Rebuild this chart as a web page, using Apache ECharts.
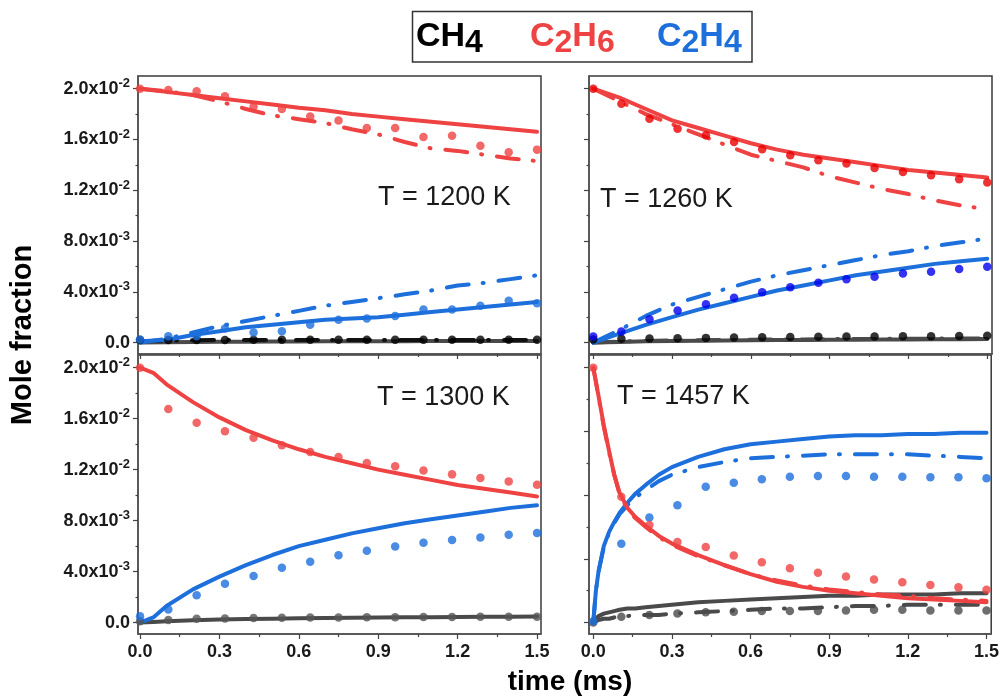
<!DOCTYPE html>
<html>
<head>
<meta charset="utf-8">
<script src="https://cdn.jsdelivr.net/npm/echarts@6/dist/echarts.min.js"></script>
<style>
  html, body { margin: 0; padding: 0; background: #ffffff; }
  #chart { width: 1002px; height: 698px; }
</style>
</head>
<body>
<div id="chart"></div>
<script>
// ---- sample times (ms) ----
const expTime = [0, 0.107, 0.214, 0.321, 0.429, 0.536, 0.643, 0.750, 0.857, 0.964, 1.071, 1.179, 1.286, 1.393, 1.5];
const modelTime = [0, 0.1, 0.2, 0.3, 0.4, 0.5, 0.6, 0.7, 0.8, 0.9, 1.0, 1.1, 1.2, 1.3, 1.4, 1.5];
const modelTime1300 = [0, 0.05, 0.1, 0.2, 0.3, 0.4, 0.5, 0.6, 0.7, 0.8, 0.9, 1.0, 1.1, 1.2, 1.3, 1.4, 1.5];
const modelTime1457 = [0, 0.01, 0.02, 0.04, 0.06, 0.08, 0.1, 0.13, 0.16, 0.2, 0.25, 0.3, 0.4, 0.5, 0.6, 0.7, 0.8, 0.9, 1.0, 1.1, 1.2, 1.3, 1.4, 1.5];

// ---- T = 1200 K ----
const ch4Exp1200    = [0.0002, 0.0002, 0.0002, 0.0002, 0.00022, 0.00022, 0.00022, 0.00023, 0.00022, 0.00022, 0.00022, 0.00022, 0.00023, 0.00023, 0.00023];
const c2h6Exp1200   = [0.0200, 0.0199, 0.0198, 0.0194, 0.0186, 0.0184, 0.0178, 0.0175, 0.0169, 0.0169, 0.0162, 0.0163, 0.0155, 0.0150, 0.0152];
const c2h4Exp1200   = [0.00024, 0.0005, 0.0005, 0.0011, 0.0008, 0.0009, 0.0014, 0.0018, 0.0019, 0.0021, 0.0026, 0.0026, 0.0029, 0.0033, 0.0031];
const ch4Solid1200  = [0, 0.00003, 0.00005, 0.00006, 0.00007, 0.00008, 0.00009, 0.0001, 0.0001, 0.00011, 0.00011, 0.00012, 0.00012, 0.00012, 0.00013, 0.00013];
const ch4Dash1200   = [0.0001, 0.00015, 0.00018, 0.0002, 0.0002, 0.0002, 0.0002, 0.0002, 0.0002, 0.0002, 0.0002, 0.0002, 0.0002, 0.0002, 0.0002, 0.0002];
const c2h6Solid1200 = [0.0200, 0.01975, 0.0195, 0.01925, 0.0190, 0.01875, 0.0185, 0.0183, 0.0180, 0.0178, 0.0176, 0.0174, 0.0172, 0.0170, 0.0168, 0.0166];
const c2h6Dash1200  = [0.0200, 0.0198, 0.0195, 0.0190, 0.0184, 0.0179, 0.0176, 0.0173, 0.0168, 0.0164, 0.0158, 0.0153, 0.0151, 0.0148, 0.0145, 0.0143];
const c2h4Solid1200 = [0.0001, 0.0002, 0.0006, 0.0009, 0.0012, 0.0014, 0.0016, 0.0018, 0.0019, 0.0020, 0.0022, 0.0024, 0.0026, 0.0028, 0.0030, 0.0032];
const c2h4Dash1200  = [0, 0.0003, 0.0008, 0.0013, 0.0017, 0.0021, 0.0025, 0.0029, 0.0032, 0.0035, 0.0038, 0.0041, 0.0045, 0.0047, 0.0050, 0.0053];

// ---- T = 1260 K ----
const ch4Exp1260    = [0.00025, 0.0003, 0.00033, 0.00035, 0.00037, 0.0004, 0.00042, 0.00044, 0.00045, 0.00047, 0.00048, 0.0005, 0.0005, 0.00052, 0.00053];
const c2h6Exp1260   = [0.0200, 0.01882, 0.01764, 0.01685, 0.01633, 0.0158, 0.01523, 0.01476, 0.01436, 0.0141, 0.01376, 0.01344, 0.01318, 0.01287, 0.01261];
const c2h4Exp1260   = [0.00047, 0.00087, 0.00184, 0.00252, 0.00302, 0.00354, 0.00396, 0.00435, 0.00472, 0.00498, 0.00519, 0.00545, 0.00558, 0.00579, 0.00597];
const ch4Solid1260  = [0, 0.00005, 0.0001, 0.00012, 0.00014, 0.00016, 0.00018, 0.0002, 0.00021, 0.00022, 0.00023, 0.00024, 0.00025, 0.00026, 0.00027, 0.00028];
const ch4Dash1260   = [0, 0.00008, 0.00013, 0.00016, 0.00018, 0.0002, 0.00022, 0.00024, 0.00025, 0.00027, 0.00028, 0.00029, 0.0003, 0.00031, 0.00032, 0.00033];
const c2h6Solid1260 = [0.0200, 0.0193, 0.0184, 0.0175, 0.0169, 0.0163, 0.0157, 0.0152, 0.0148, 0.0145, 0.0142, 0.0139, 0.0136, 0.0134, 0.0132, 0.0130];
const c2h6Dash1260  = [0.0200, 0.0190, 0.0180, 0.0172, 0.0164, 0.0156, 0.0148, 0.0143, 0.0138, 0.0131, 0.0126, 0.0121, 0.0117, 0.0112, 0.0108, 0.0105];
const c2h4Solid1260 = [0, 0.0007, 0.0014, 0.0020, 0.0026, 0.0031, 0.0036, 0.0041, 0.0045, 0.0049, 0.0053, 0.0056, 0.0059, 0.0062, 0.0064, 0.0066];
const c2h4Dash1260  = [0, 0.0010, 0.0021, 0.0030, 0.0036, 0.0042, 0.0048, 0.0053, 0.0057, 0.0061, 0.0065, 0.0069, 0.0072, 0.0076, 0.0079, 0.0082];

// ---- T = 1300 K ----
const ch4Exp1300    = [0.0001, 0.0002, 0.0003, 0.00032, 0.00035, 0.00037, 0.00039, 0.0004, 0.00041, 0.00042, 0.00043, 0.00044, 0.00045, 0.00045, 0.00046];
const c2h6Exp1300   = [0.0200, 0.01676, 0.01568, 0.01502, 0.0145, 0.01392, 0.01339, 0.01299, 0.01252, 0.01226, 0.01194, 0.01163, 0.01134, 0.01108, 0.01081];
const c2h4Exp1300   = [0.0005, 0.00103, 0.00215, 0.00305, 0.00365, 0.0043, 0.00478, 0.00529, 0.00563, 0.00597, 0.00626, 0.00647, 0.00668, 0.00689, 0.00702];
const ch4Solid1300  = [0, 0.00005, 0.0001, 0.00018, 0.00023, 0.00027, 0.0003, 0.00033, 0.00035, 0.00037, 0.00039, 0.00041, 0.00042, 0.00044, 0.00045, 0.00046, 0.00047];
const c2h6Solid1300 = [0.0200, 0.0196, 0.0187, 0.0173, 0.0161, 0.0151, 0.0143, 0.0136, 0.0130, 0.0125, 0.0120, 0.0116, 0.0112, 0.0108, 0.0105, 0.0102, 0.0099];
const c2h4Solid1300 = [0, 0.0004, 0.0013, 0.0026, 0.0036, 0.0045, 0.0053, 0.0060, 0.0065, 0.0070, 0.0074, 0.0078, 0.0081, 0.0084, 0.0087, 0.0090, 0.0092];

// ---- T = 1457 K ----
const ch4Exp1457    = [0, 0.00045, 0.0006, 0.0007, 0.0008, 0.00085, 0.0009, 0.0009, 0.0009, 0.00095, 0.001, 0.001, 0.00095, 0.00095, 0.00095];
const c2h6Exp1457   = [0.0200, 0.00987, 0.00766, 0.00632, 0.00592, 0.00526, 0.00474, 0.00426, 0.0039, 0.00361, 0.00337, 0.00316, 0.00295, 0.00276, 0.00258];
const c2h4Exp1457   = [0.0001, 0.00619, 0.00824, 0.00921, 0.01066, 0.01097, 0.01124, 0.01145, 0.0115, 0.0115, 0.01145, 0.01145, 0.0114, 0.0114, 0.01132];
const ch4Solid1457  = [0, 0.0003, 0.0005, 0.0007, 0.0008, 0.0009, 0.0010, 0.0011, 0.0011, 0.0012, 0.0013, 0.0014, 0.0016, 0.0017, 0.0018, 0.0019, 0.0020, 0.0021, 0.0021, 0.0022, 0.0022, 0.0022, 0.0023, 0.0023];
const ch4Dash1457   = [0, 0.0001, 0.0002, 0.0003, 0.0003, 0.0004, 0.0005, 0.0005, 0.0006, 0.0006, 0.0006, 0.0007, 0.0008, 0.0009, 0.0010, 0.0011, 0.0011, 0.0012, 0.0013, 0.0013, 0.0014, 0.0014, 0.0014, 0.0014];
const c2h6Solid1457 = [0.0200, 0.0189, 0.0178, 0.0155, 0.0135, 0.0116, 0.0102, 0.0090, 0.0083, 0.0076, 0.0068, 0.0062, 0.0053, 0.0045, 0.0038, 0.0032, 0.0028, 0.0025, 0.0023, 0.0021, 0.0019, 0.0018, 0.0017, 0.0016];
const c2h6Dash1457  = [0.0200, 0.0189, 0.0177, 0.0154, 0.0134, 0.0116, 0.0101, 0.0089, 0.0082, 0.0075, 0.0067, 0.0061, 0.0052, 0.0045, 0.0038, 0.0033, 0.0029, 0.0026, 0.0024, 0.0022, 0.0021, 0.0019, 0.0018, 0.0017];
const c2h4Solid1457 = [0, 0.0025, 0.0040, 0.0060, 0.0071, 0.0079, 0.0086, 0.0094, 0.0101, 0.0108, 0.0116, 0.0122, 0.0130, 0.0136, 0.0140, 0.0142, 0.0144, 0.0146, 0.0147, 0.0147, 0.0148, 0.0148, 0.0149, 0.0149];
const c2h4Dash1457  = [0, 0.0025, 0.0040, 0.0059, 0.0070, 0.0078, 0.0085, 0.0092, 0.0098, 0.0104, 0.0111, 0.0116, 0.0122, 0.0126, 0.0129, 0.0130, 0.0131, 0.0132, 0.0132, 0.0132, 0.0132, 0.0131, 0.0130, 0.0129];

// ---- axis ticks ----
const xLabelValues = [0, 0.3, 0.6, 0.9, 1.2, 1.5];
const xMinorValues = [0.15, 0.45, 0.75, 1.05, 1.35];
const yLabelValues = [0, 0.004, 0.008, 0.012, 0.016, 0.02];
const yMinorValues = [0.002, 0.006, 0.01, 0.014, 0.018];
const yMajor1457   = [0, 0.005, 0.01, 0.015, 0.02];
const yMinor1457   = [0.0025, 0.0075, 0.0125, 0.0175];

const temperatureLabels = ['T = 1200 K', 'T = 1260 K', 'T = 1300 K', 'T = 1457 K'];
const speciesNames = ['CH4', 'C2H6', 'C2H4'];

const RED = '#EF4242';
const BLUE = '#1D6FDC';
const GRAY = '#4A4A4A';
const FONT = '"Liberation Sans", Arial, sans-serif';

const Y_MIN = -0.0009, Y_MAX = 0.021;

const grids = [
  { left: 138, top: 76,  width: 403, height: 278 },
  { left: 589, top: 76,  width: 403, height: 278 },
  { left: 138, top: 355, width: 403, height: 279 },
  { left: 589, top: 355, width: 403, height: 279 }
].map(g => Object.assign(g, { show: true, borderColor: '#3a3a3a', borderWidth: 1.5, backgroundColor: 'transparent', containLabel: false }));

const xRange = [[-0.0076, 1.515], [-0.0163, 1.518], [-0.0076, 1.515], [-0.0163, 1.518]];

function sciLabel(v) {
  if (Math.abs(v) < 1e-12) return '{m|0.0}';
  const e = Math.floor(Math.log10(v) + 1e-9);
  const m = v / Math.pow(10, e);
  return '{m|' + m.toFixed(1) + 'x10}{e|' + e + '}';
}

const xAxes = [], yAxes = [];
grids.forEach((g, i) => {
  const bottomRow = i >= 2;
  const leftCol = i % 2 === 0;
  const base = { gridIndex: i, type: 'value', min: xRange[i][0], max: xRange[i][1], position: 'bottom', splitLine: { show: false } };
  xAxes.push(Object.assign({}, base, {
    axisLine: { show: true, onZero: false, lineStyle: { color: '#555', width: 1.5 } },
    axisTick: { show: true, customValues: xLabelValues, length: 5, lineStyle: { color: '#444', width: 1.2 } },
    axisLabel: {
      show: bottomRow, customValues: xLabelValues, margin: 9,
      formatter: v => v.toFixed(1),
      fontFamily: FONT, fontWeight: 'bold', fontSize: 18, color: '#1a1a1a'
    }
  }));
  xAxes.push(Object.assign({}, base, {
    axisLine: { show: false, onZero: false },
    axisTick: { show: true, customValues: xMinorValues, length: 3, lineStyle: { color: '#444', width: 1.2 } },
    axisLabel: { show: false }
  }));
  const major = i === 3 ? yMajor1457 : yLabelValues;
  const minor = i === 3 ? yMinor1457 : yMinorValues;
  const ybase = { gridIndex: i, type: 'value', min: Y_MIN, max: Y_MAX, position: 'left', splitLine: { show: false } };
  yAxes.push(Object.assign({}, ybase, {
    axisLine: { show: true, onZero: false, lineStyle: { color: '#555', width: 1.5 } },
    axisTick: { show: true, customValues: major, length: 5, lineStyle: { color: '#444', width: 1.2 } },
    axisLabel: {
      show: leftCol, customValues: yLabelValues, margin: 8,
      formatter: sciLabel,
      rich: {
        m: { fontFamily: FONT, fontWeight: 'bold', fontSize: 18, color: '#1a1a1a' },
        e: { fontFamily: FONT, fontWeight: 'bold', fontSize: 13, color: '#1a1a1a', padding: [0, 0, 10, 0] }
      }
    }
  }));
  yAxes.push(Object.assign({}, ybase, {
    axisLine: { show: false, onZero: false },
    axisTick: { show: true, customValues: minor, length: 2.5, lineStyle: { color: '#444', width: 1.2 } },
    axisLabel: { show: false }
  }));
});

function pairs(times, vals) { return times.map((t, k) => [t, vals[k]]); }

function line(panel, name, times, vals, color, dashed) {
  return {
    type: 'line', name: name, xAxisIndex: panel * 2, yAxisIndex: panel * 2,
    data: pairs(times, vals), showSymbol: false, symbol: 'none',
    smooth: false, silent: true,
    lineStyle: dashed
      ? { color: color, width: 4, type: [22, 14, 1, 15], cap: 'round', join: 'round' }
      : { color: color, width: 4, cap: 'round', join: 'round' },
    z: 2
  };
}
function dots(panel, name, vals, color) {
  return {
    type: 'scatter', name: name, xAxisIndex: panel * 2, yAxisIndex: panel * 2,
    data: pairs(expTime, vals), symbol: 'circle', symbolSize: 8.5, silent: true,
    itemStyle: { color: color }, z: 3
  };
}

const series = [
  // 1200 K
  line(0, speciesNames[0], modelTime, ch4Solid1200, GRAY, false),
  line(0, speciesNames[0], modelTime, ch4Dash1200, '#111', true),
  line(0, speciesNames[2], modelTime, c2h4Solid1200, BLUE, false),
  line(0, speciesNames[2], modelTime, c2h4Dash1200, BLUE, true),
  line(0, speciesNames[1], modelTime, c2h6Solid1200, RED, false),
  line(0, speciesNames[1], modelTime, c2h6Dash1200, RED, true),
  dots(0, speciesNames[0], ch4Exp1200, '#000'),
  dots(0, speciesNames[2], c2h4Exp1200, BLUE),
  dots(0, speciesNames[1], c2h6Exp1200, RED),
  // 1260 K
  line(1, speciesNames[0], modelTime, ch4Solid1260, GRAY, false),
  line(1, speciesNames[0], modelTime, ch4Dash1260, GRAY, true),
  line(1, speciesNames[2], modelTime, c2h4Solid1260, BLUE, false),
  line(1, speciesNames[2], modelTime, c2h4Dash1260, BLUE, true),
  line(1, speciesNames[1], modelTime, c2h6Solid1260, RED, false),
  line(1, speciesNames[1], modelTime, c2h6Dash1260, RED, true),
  dots(1, speciesNames[0], ch4Exp1260, '#000'),
  dots(1, speciesNames[2], c2h4Exp1260, '#0000EE'),
  dots(1, speciesNames[1], c2h6Exp1260, '#E80000'),
  // 1300 K
  line(2, speciesNames[0], modelTime1300, ch4Solid1300, GRAY, false),
  line(2, speciesNames[2], modelTime1300, c2h4Solid1300, BLUE, false),
  line(2, speciesNames[1], modelTime1300, c2h6Solid1300, RED, false),
  dots(2, speciesNames[0], ch4Exp1300, '#555'),
  dots(2, speciesNames[2], c2h4Exp1300, BLUE),
  dots(2, speciesNames[1], c2h6Exp1300, RED),
  // 1457 K
  line(3, speciesNames[0], modelTime1457, ch4Solid1457, GRAY, false),
  line(3, speciesNames[0], modelTime1457, ch4Dash1457, GRAY, true),
  line(3, speciesNames[2], modelTime1457, c2h4Solid1457, BLUE, false),
  line(3, speciesNames[2], modelTime1457, c2h4Dash1457, BLUE, true),
  line(3, speciesNames[1], modelTime1457, c2h6Solid1457, RED, false),
  line(3, speciesNames[1], modelTime1457, c2h6Dash1457, RED, true),
  dots(3, speciesNames[0], ch4Exp1457, GRAY),
  dots(3, speciesNames[2], c2h4Exp1457, BLUE),
  dots(3, speciesNames[1], c2h6Exp1457, RED)
];

// temperature captions inside each panel
const captionPos = [[378, 198], [600, 200], [377, 398], [617, 397]];
const captions = temperatureLabels.map((txt, i) => ({
  type: 'text', x: captionPos[i][0], y: captionPos[i][1], z: 10,
  style: { text: txt, fontFamily: FONT, fontSize: 27, fill: '#1a1a1a', verticalAlign: 'middle' }
}));

// species key with lowered subscripts
function formula(parts) {
  return parts.map(p => (p[1] ? '{s|' : '{m|') + p[0] + '}').join('');
}
function keyText(x, parts, color) {
  return {
    type: 'text', x: x, y: 37, z: 11,
    style: {
      text: formula(parts), verticalAlign: 'middle',
      rich: {
        m: { fontFamily: FONT, fontWeight: 'bold', fontSize: 34, fill: color },
        s: { fontFamily: FONT, fontWeight: 'bold', fontSize: 32, fill: color, padding: [12, 0, 0, 0] }
      }
    }
  };
}

const graphics = captions.concat([
  { type: 'rect', z: 10, shape: { x: 412.5, y: 11.5, width: 339.5, height: 50.5 },
    style: { fill: '#ffffff', stroke: '#333', lineWidth: 1.5 } },
  keyText(416, [['CH', false], ['4', true]], '#000'),
  keyText(530, [['C', false], ['2', true], ['H', false], ['6', true]], RED),
  keyText(657, [['C', false], ['2', true], ['H', false], ['4', true]], BLUE),
  { type: 'text', x: 23, y: 335, rotation: Math.PI / 2, z: 10,
    style: { text: 'Mole fraction', fontFamily: FONT, fontWeight: 'bold', fontSize: 29, fill: '#000', align: 'center', verticalAlign: 'middle' } },
  { type: 'text', x: 570, y: 682, z: 10,
    style: { text: 'time (ms)', fontFamily: FONT, fontWeight: 'bold', fontSize: 28, fill: '#000', align: 'center', verticalAlign: 'middle' } }
]);

const chart = echarts.init(document.getElementById('chart'), null, { renderer: 'canvas' });
chart.setOption({
  animation: false,
  backgroundColor: '#ffffff',
  grid: grids,
  xAxis: xAxes,
  yAxis: yAxes,
  series: series,
  graphic: graphics
});
</script>
</body>
</html>
